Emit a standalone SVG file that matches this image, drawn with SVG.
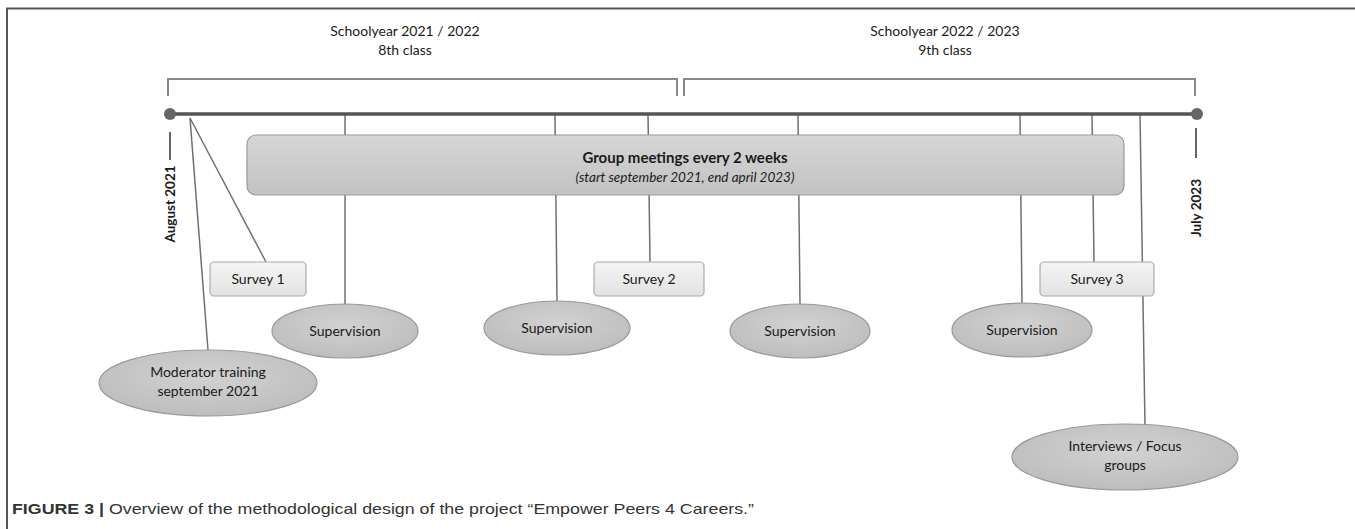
<svg xmlns="http://www.w3.org/2000/svg" width="1355" height="529" viewBox="0 0 1355 529">
<defs>
<linearGradient id="gBar" x1="0" y1="0" x2="0" y2="1">
<stop offset="0" stop-color="#d6d6d6"/><stop offset="1" stop-color="#c2c2c2"/>
</linearGradient>
<linearGradient id="gBox" x1="0" y1="0" x2="0" y2="1">
<stop offset="0" stop-color="#f4f4f4"/><stop offset="1" stop-color="#e2e2e2"/>
</linearGradient>
<radialGradient id="gEll" cx="0.5" cy="0.4" r="0.6">
<stop offset="0" stop-color="#d2d2d2"/><stop offset="1" stop-color="#bdbdbd"/>
</radialGradient>
</defs>
<style>
.t{font-family:Lato,"Open Sans","Liberation Sans",sans-serif;font-size:14px;fill:#1a1a1a;text-anchor:middle}
.b{font-weight:bold}
.ln{stroke:#707070;stroke-width:1.5;fill:none}
.br{stroke:#888;stroke-width:2;fill:none}
.box{fill:url(#gBox);stroke:#aaa;stroke-width:1.2}
.ell{fill:url(#gEll);stroke:#999;stroke-width:1.2}
.cap{font-family:"Liberation Sans",Arial,sans-serif;font-size:15px;fill:#333}
</style>
<rect width="1355" height="529" fill="#fff"/>
<path d="M7,529 V8.5 H1355" fill="none" stroke="#555" stroke-width="2"/>

<g id="titles">
<text class="t" x="405" y="36">Schoolyear 2021 / 2022</text>
<text class="t" x="405" y="55">8th class</text>
<text class="t" x="945" y="36">Schoolyear 2022 / 2023</text>
<text class="t" x="945" y="55">9th class</text>
</g>
<g id="brackets">
<path class="br" d="M168,96 V79 H677 V96"/>
<path class="br" d="M684,96 V79 H1195 V96"/>
</g>

<g id="connectors">
<line class="ln" x1="345" y1="114" x2="345" y2="304"/>
<line class="ln" x1="555" y1="114" x2="557" y2="302"/>
<line class="ln" x1="648" y1="114" x2="650" y2="262"/>
<line class="ln" x1="798" y1="114" x2="800" y2="304"/>
<line class="ln" x1="1020" y1="114" x2="1022" y2="304"/>
<line class="ln" x1="1092" y1="114" x2="1094" y2="262"/>
<line class="ln" x1="1140" y1="114" x2="1145" y2="426"/>
<line class="ln" x1="190" y1="118" x2="208" y2="350"/>
<line class="ln" x1="190" y1="118" x2="266" y2="262"/>
<line x1="170" y1="132" x2="170" y2="160" stroke="#666" stroke-width="2"/>
<line x1="1196" y1="128" x2="1196" y2="158" stroke="#666" stroke-width="2"/>
</g>

<g id="timeline">
<line x1="170" y1="114" x2="1197" y2="114" stroke="#555" stroke-width="3.5"/>
<circle cx="170" cy="114" r="6" fill="#666"/>
<circle cx="1197" cy="114" r="6" fill="#666"/>
</g>

<g id="dates">
<text class="t b" transform="translate(175,204) rotate(-90)" style="font-size:13.5px">August 2021</text>
<text class="t b" transform="translate(1201,208) rotate(-90)" style="font-size:13.5px">July 2023</text>
</g>

<g id="group-meetings">
<rect x="247" y="135" width="877" height="60" rx="9" fill="url(#gBar)" stroke="#999" stroke-width="1.2"/>
<text class="t b" x="685" y="163" style="font-size:15px">Group meetings every 2 weeks</text>
<text class="t" x="685" y="182" font-style="italic" style="font-size:13.5px">(start september 2021, end april 2023)</text>
</g>

<g id="survey1"><rect class="box" x="210" y="262" width="96" height="34" rx="4"/><text class="t" x="258" y="284">Survey 1</text></g>
<g id="survey2"><rect class="box" x="594" y="262" width="110" height="34" rx="4"/><text class="t" x="649" y="284">Survey 2</text></g>
<g id="survey3"><rect class="box" x="1040" y="262" width="114" height="34" rx="4"/><text class="t" x="1097" y="284">Survey 3</text></g>

<g id="supervision1"><ellipse class="ell" cx="345" cy="331" rx="73" ry="27"/><text class="t" x="345" y="336">Supervision</text></g>
<g id="supervision2"><ellipse class="ell" cx="557" cy="328" rx="73" ry="27"/><text class="t" x="557" y="333">Supervision</text></g>
<g id="supervision3"><ellipse class="ell" cx="800" cy="331" rx="70" ry="27"/><text class="t" x="800" y="336">Supervision</text></g>
<g id="supervision4"><ellipse class="ell" cx="1022" cy="330" rx="70" ry="27"/><text class="t" x="1022" y="335">Supervision</text></g>
<g id="moderator"><ellipse class="ell" cx="208" cy="383" rx="109" ry="33"/><text class="t" x="208" y="377">Moderator training</text><text class="t" x="208" y="396">september 2021</text></g>
<g id="interviews"><ellipse class="ell" cx="1125" cy="457" rx="113" ry="33"/><text class="t" x="1125" y="451">Interviews / Focus</text><text class="t" x="1125" y="470">groups</text></g>

<text class="cap" x="12" y="514" textLength="742" lengthAdjust="spacingAndGlyphs"><tspan font-weight="bold">FIGURE 3 | </tspan>Overview of the methodological design of the project “Empower Peers 4 Careers.”</text>
</svg>
